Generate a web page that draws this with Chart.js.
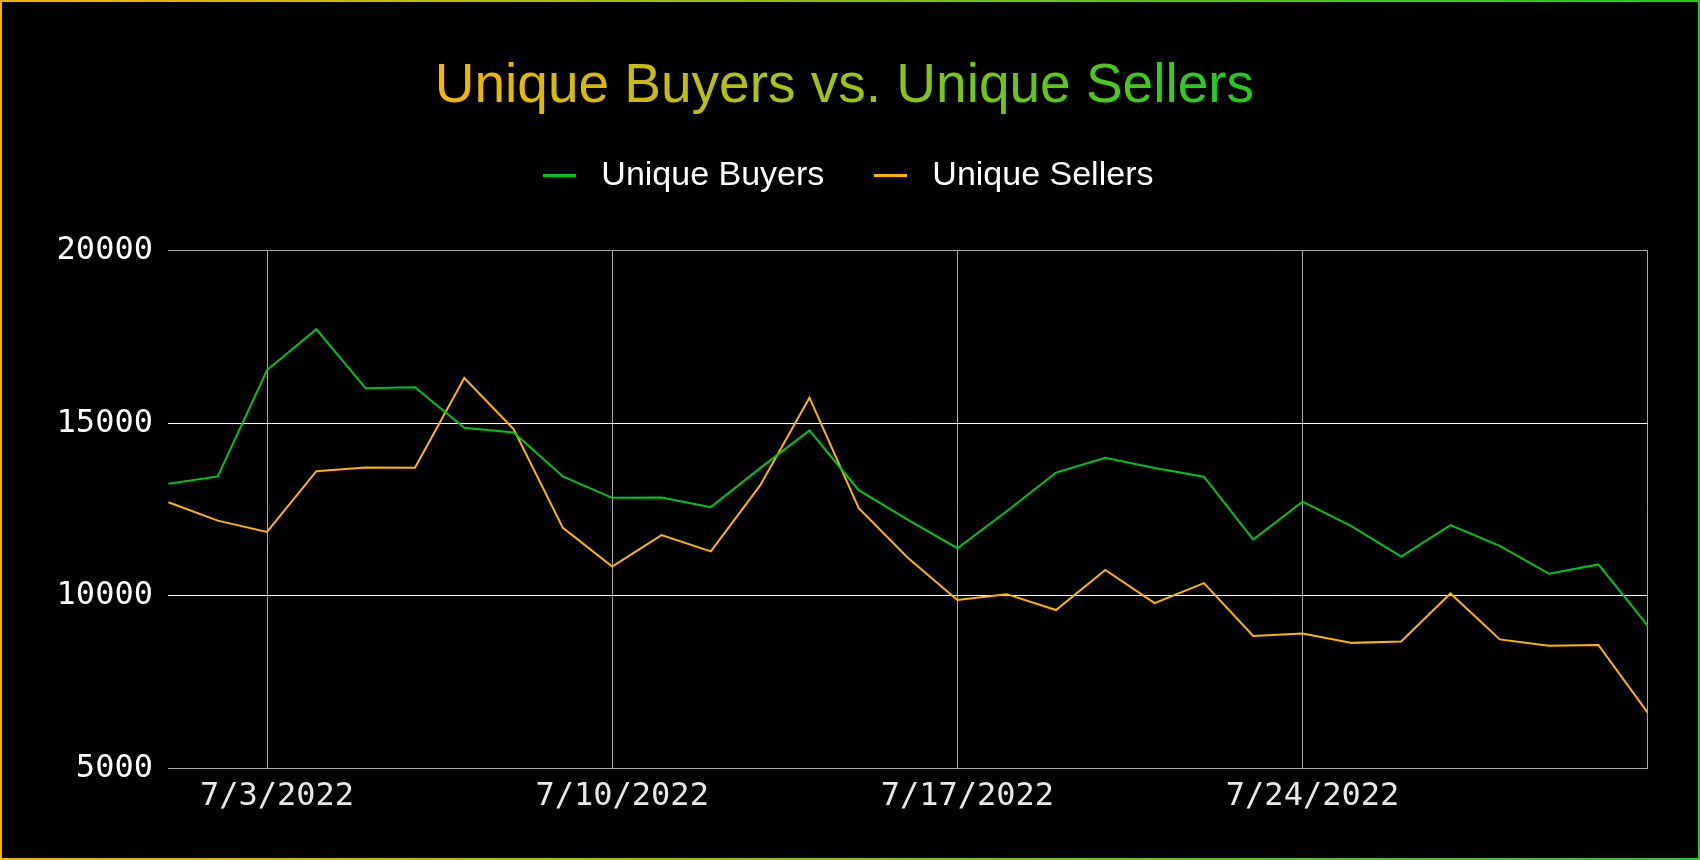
<!DOCTYPE html>
<html>
<head>
<meta charset="utf-8">
<script src="https://cdn.jsdelivr.net/npm/chart.js@4.4.1/dist/chart.umd.min.js"></script>
<style>
html,body{margin:0;padding:0;background:#000;overflow:hidden}
canvas{display:block}
</style>
</head>
<body>
<canvas id="c" width="1700" height="860"></canvas>
<script>
const dates = ['7/1/2022','7/2/2022','7/3/2022','7/4/2022','7/5/2022','7/6/2022','7/7/2022','7/8/2022','7/9/2022','7/10/2022',
  '7/11/2022','7/12/2022','7/13/2022','7/14/2022','7/15/2022','7/16/2022','7/17/2022','7/18/2022','7/19/2022','7/20/2022',
  '7/21/2022','7/22/2022','7/23/2022','7/24/2022','7/25/2022','7/26/2022','7/27/2022','7/28/2022','7/29/2022','7/30/2022','7/31/2022'];
const labeledDates = ['7/3/2022','7/10/2022','7/17/2022','7/24/2022'];
const uniqueBuyers = [13250,13460,16540,17720,16010,16040,14870,14730,13460,12840,
  12850,12570,13700,14790,13060,12200,11380,12450,13570,14000,
  13700,13450,11630,12730,12010,11140,12050,11450,10640,10910,9140];
const uniqueSellers = [12710,12180,11850,13610,13720,13710,16310,14830,11970,10850,
  11760,11290,13200,15740,12540,11100,9880,10050,9590,10750,
  9790,10370,8840,8910,8640,8680,10070,8740,8560,8580,6620];
const yMin = 5000, yMax = 20000, yStep = 5000;
const titleText = 'Unique Buyers vs. Unique Sellers';
const seriesNames = ['Unique Buyers', 'Unique Sellers'];

const ORANGE = '#ffb400';
const GREEN = '#00c41c';
const GRID = '#a8a8a8';
const SANS = "'Liberation Sans', Arial, sans-serif";
const MONO = "'DejaVu Sans Mono', monospace";
const PAD = {left: 41.1, right: 52.3, top: 0, bottom: 35};

const canvas = document.getElementById('c');
const ctx0 = canvas.getContext('2d');
const TITLE_SIZE = 55;
ctx0.font = TITLE_SIZE + 'px ' + SANS;
const tw = ctx0.measureText(titleText).width;
// Title is drawn translated to its centre, so the gradient is relative to it
const titleGrad = ctx0.createLinearGradient(-tw / 2, 0, tw / 2, 0);
titleGrad.addColorStop(0, '#f7b500');
titleGrad.addColorStop(0.5, '#9cc414');
titleGrad.addColorStop(1, '#1ccc22');

function swatch(color) {
  const s = document.createElement('canvas');
  s.width = 33; s.height = 3;
  const g = s.getContext('2d');
  g.fillStyle = color;
  g.fillRect(0, 0, 33, 3);
  return s;
}

const framePlugin = {
  id: 'frame',
  beforeDraw(chart) {
    const c = chart.ctx;
    c.save();
    const g = c.createLinearGradient(0, 0, chart.width, 0);
    g.addColorStop(0, '#f5b400');
    g.addColorStop(1, '#1ccc1c');
    c.fillStyle = g;
    c.fillRect(0, 0, chart.width, chart.height);
    c.fillStyle = '#000';
    c.fillRect(2, 2, chart.width - 4, chart.height - 4);
    c.restore();
  }
};

const legendGap = {
  id: 'legendGap',
  beforeUpdate(chart) {
    if (chart.legend && !chart.legend._gapPatched) {
      const fit = chart.legend.fit;
      chart.legend.fit = function () { fit.call(this); this.height += 48; };
      chart.legend._gapPatched = true;
    }
  }
};

new Chart(canvas, {
  type: 'line',
  data: {
    labels: dates,
    datasets: [
      {label: seriesNames[0], data: uniqueBuyers, borderColor: GREEN, backgroundColor: GREEN,
       borderWidth: 2, pointRadius: 0, tension: 0, pointStyle: swatch(GREEN)},
      {label: seriesNames[1], data: uniqueSellers, borderColor: ORANGE, backgroundColor: ORANGE,
       borderWidth: 2, pointRadius: 0, tension: 0, pointStyle: swatch(ORANGE)}
    ]
  },
  options: {
    responsive: false,
    animation: false,
    devicePixelRatio: 1,
    layout: {padding: PAD},
    plugins: {
      title: {
        display: true, text: titleText, color: titleGrad,
        font: {family: SANS, size: TITLE_SIZE, weight: 'normal', lineHeight: 0.8},
        padding: {top: 64.5, bottom: 8}
      },
      legend: {
        display: true,
        labels: {
          color: '#ffffff',
          font: {family: SANS, size: 34},
          usePointStyle: true, pointStyleWidth: 49,
          boxHeight: 24, padding: 42
        }
      },
      tooltip: {enabled: false}
    },
    scales: {
      x: {
        grid: {
          drawTicks: false, lineWidth: 1,
          color: (c) => {
            const i = c.index;
            return (labeledDates.includes(dates[i]) || i === dates.length - 1) ? GRID : 'rgba(0,0,0,0)';
          }
        },
        border: {display: true, color: GRID, width: 1},
        ticks: {
          autoSkip: false, maxRotation: 0, minRotation: 0, padding: 9, labelOffset: 10,
          color: '#e8e8e8', font: {family: MONO, size: 32, lineHeight: 1.2},
          callback: function (v) { const l = this.getLabelForValue(v); return labeledDates.includes(l) ? l : ''; }
        }
      },
      y: {
        min: yMin, max: yMax,
        grid: {
          drawTicks: false, lineWidth: 1,
          color: (c) => (c.tick && (c.tick.value === yMin || c.tick.value === yMax)) ? GRID : '#ffffff'
        },
        border: {display: false},
        ticks: {
          stepSize: yStep, padding: 15.5, color: '#ffffff',
          font: {family: MONO, size: 32, lineHeight: 1.2},
          callback: (v) => String(v)
        }
      }
    }
  },
  plugins: [framePlugin, legendGap]
});
</script>
</body>
</html>
